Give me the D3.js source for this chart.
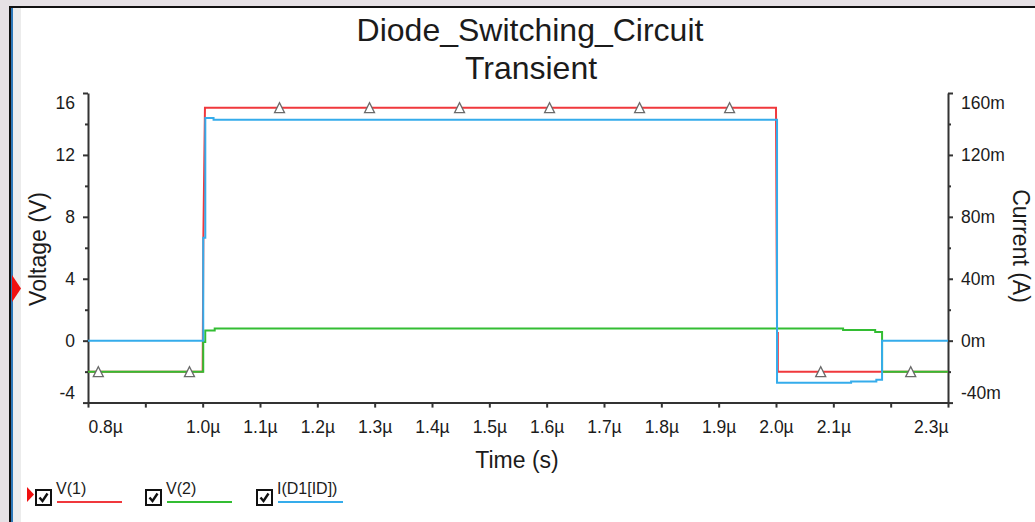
<!DOCTYPE html>
<html>
<head>
<meta charset="utf-8">
<script src="https://cdn.jsdelivr.net/npm/d3@7"></script>
<style>
  body { margin: 0; background: #e6e1e5; overflow: hidden; }
  svg { display: block; }
  text { font-family: "Liberation Sans", Arial, sans-serif; fill: #1b1b1b; }
</style>
</head>
<body>
<svg id="chart"></svg>
<script>
const width = 1035, height = 522;

// time in µs, voltages in V, current in mA
const v1Time = [0.8, 1.0, 1.0012, 1.004, 2.0, 2.0018, 2.0032, 2.0032, 2.3];
const v1Value = [-2, -2, 6.6, 15.05, 15.05, 0.5, 0.5, -2, -2];

const v2Time = [0.8, 1.001, 1.001, 1.0045, 1.0045, 1.021, 1.021, 2.117, 2.117, 2.173, 2.173, 2.185, 2.185, 2.3];
const v2Value = [-2, -2, -0.08, -0.08, 0.65, 0.65, 0.78, 0.78, 0.69, 0.69, 0.56, 0.56, -2, -2];

const iTime = [0.8, 1.001, 1.001, 1.0046, 1.0046, 1.019, 1.019, 2.0018, 2.0018, 2.131, 2.131, 2.175, 2.175, 2.185, 2.185, 2.3];
const iValue = [0, 0, 66.5, 66.5, 143.9, 143.9, 142.8, 142.8, -27.2, -27.2, -26.3, -26.3, -25.3, -25.3, 0, 0];

const v1Markers = [1.134, 1.291, 1.448, 1.605, 1.762, 1.919, 2.078];
const v2Markers = [0.818, 0.977, 2.235];

const timeTicks = [0.8, 0.9, 1.0, 1.1, 1.2, 1.3, 1.4, 1.5, 1.6, 1.7, 1.8, 1.9, 2.0, 2.1, 2.2, 2.3];
const timeLabels = ['0.8µ', '', '1.0µ', '1.1µ', '1.2µ', '1.3µ', '1.4µ', '1.5µ', '1.6µ', '1.7µ', '1.8µ', '1.9µ', '2.0µ', '2.1µ', '', '2.3µ'];
const voltTicks = [-4, 0, 4, 8, 12, 16];
const voltMinor = [-2, 2, 6, 10, 14];
const ampTicks = [-40, 0, 40, 80, 120, 160];
const ampMinor = [-20, 20, 60, 100, 140];

const legendNames = ['V(1)', 'V(2)', 'I(D1[ID])'];
const legendColors = ['#f0383c', '#33bd33', '#35aceb'];

const plotLeft = 88, plotRight = 948, plotTop = 93, plotBottom = 402.6;

let x = d3.scaleLinear().domain([0.8, 2.3]).range([plotLeft, plotRight]);
let yV = d3.scaleLinear().domain([-4, 16]).range([plotBottom, plotTop]);
let yI = d3.scaleLinear().domain([-40, 160]).range([plotBottom, plotTop]);

let svg = d3.select('#chart')
    .attr('width', width)
    .attr('height', height);

// window frame
svg.append('rect').attr('x', 9).attr('y', 6).attr('width', width - 9).attr('height', height - 6).attr('fill', '#111');
svg.append('rect').attr('x', 11).attr('y', 8).attr('width', width - 11).attr('height', height - 8).attr('fill', '#2e78b8');
svg.append('rect').attr('x', 13).attr('y', 8).attr('width', width - 13).attr('height', height - 8).attr('fill', '#ececec');
svg.append('rect').attr('x', 21).attr('y', 8).attr('width', width - 21).attr('height', height - 8).attr('fill', '#fff');

// titles
svg.append('text').attr('x', 530).attr('y', 41).attr('text-anchor', 'middle')
    .style('font-size', '32px').text('Diode_Switching_Circuit');
svg.append('text').attr('x', 531).attr('y', 79).attr('text-anchor', 'middle')
    .style('font-size', '32px').text('Transient');

// axes
function styleAxis(g) {
    g.selectAll('.domain').attr('stroke', '#333').attr('stroke-width', 2);
    g.selectAll('.tick line').attr('stroke', '#333').attr('stroke-width', 2);
    g.selectAll('.tick text').style('font-size', '17.5px').attr('fill', '#1b1b1b')
        .style('font-family', '"Liberation Sans", Arial, sans-serif');
}

let xAxis = svg.append('g')
    .attr('transform', `translate(0,${plotBottom})`)
    .call(d3.axisBottom(x).tickValues(timeTicks).tickSize(5).tickSizeOuter(0)
        .tickFormat((d, i) => timeLabels[i]))
    .call(styleAxis);
xAxis.selectAll('.tick text').attr('y', 18);
xAxis.selectAll('.tick text').filter((d, i) => i === 0).attr('text-anchor', 'start');
xAxis.selectAll('.tick text').filter((d, i) => i === timeTicks.length - 1).attr('text-anchor', 'end');

let yAxisV = svg.append('g')
    .attr('transform', `translate(${plotLeft},0)`)
    .call(d3.axisLeft(yV).tickValues(voltTicks).tickSize(5).tickSizeOuter(0).tickPadding(8)
        .tickFormat(d => String(d)))
    .call(styleAxis);
yAxisV.selectAll('.tick text').filter(d => d === 16).attr('dy', '0.9em');
yAxisV.selectAll('.tick text').filter(d => d === -4).attr('dy', '-0.25em');

svg.append('g')
    .attr('transform', `translate(${plotLeft},0)`)
    .call(d3.axisLeft(yV).tickValues(voltMinor).tickSize(3).tickFormat(''))
    .call(styleAxis)
    .select('.domain').remove();

let yAxisI = svg.append('g')
    .attr('transform', `translate(${plotRight},0)`)
    .call(d3.axisRight(yI).tickValues(ampTicks).tickSize(5).tickSizeOuter(0).tickPadding(8)
        .tickFormat(d => d + 'm'))
    .call(styleAxis);
yAxisI.selectAll('.tick text').filter(d => d === 160).attr('dy', '0.9em');
yAxisI.selectAll('.tick text').filter(d => d === -40).attr('dy', '-0.25em');

svg.append('g')
    .attr('transform', `translate(${plotRight},0)`)
    .call(d3.axisRight(yI).tickValues(ampMinor).tickSize(3).tickFormat(''))
    .call(styleAxis)
    .select('.domain').remove();

// axis titles
svg.append('text').attr('transform', 'translate(38,249) rotate(-90)')
    .attr('text-anchor', 'middle').attr('dy', '0.35em')
    .style('font-size', '23px').text('Voltage (V)');
svg.append('text').attr('transform', 'translate(1021,246) rotate(90)')
    .attr('text-anchor', 'middle').attr('dy', '0.35em')
    .style('font-size', '23px').text('Current (A)');
svg.append('text').attr('x', 517).attr('y', 468).attr('text-anchor', 'middle')
    .style('font-size', '23px').text('Time (s)');

// axis selector marker
svg.append('path').attr('d', 'M12,275 L21,288.5 L12,302 Z').attr('fill', '#f01010');

// traces
let lineV = d3.line().x(d => x(d[0])).y(d => yV(d[1]));
let lineI = d3.line().x(d => x(d[0])).y(d => yI(d[1]));

let traces = svg.append('g').attr('fill', 'none').attr('stroke-width', 2);
traces.append('path').attr('d', lineV(d3.zip(v1Time, v1Value))).attr('stroke', legendColors[0]);
traces.append('path').attr('d', lineV(d3.zip(v2Time, v2Value))).attr('stroke', legendColors[1]);
traces.append('path').attr('d', lineI(d3.zip(iTime, iValue))).attr('stroke', legendColors[2]);

// markers
function valueAt(times, values, t) {
    let idx = d3.bisectRight(times, t) - 1;
    return values[Math.max(0, idx)];
}
let markers = v1Markers.map(t => [t, valueAt(v1Time, v1Value, t)])
    .concat(v2Markers.map(t => [t, valueAt(v2Time, v2Value, t)]));

svg.append('g')
    .selectAll('path')
    .data(markers)
    .enter().append('path')
    .attr('d', d => {
        let cx = x(d[0]), cy = yV(d[1]);
        return `M${cx - 5},${cy + 5} L${cx},${cy - 5} L${cx + 5},${cy + 5} Z`;
    })
    .attr('fill', '#fff')
    .attr('stroke', '#6a6a6a')
    .attr('stroke-width', 1.3);

// legend
let legendX = [35, 145, 256];
let legend = svg.append('g')
    .selectAll('g')
    .data(legendNames)
    .enter().append('g')
    .attr('transform', (d, i) => `translate(${legendX[i]},489)`);

legend.append('rect').attr('x', 1).attr('y', 1).attr('width', 15).attr('height', 15)
    .attr('fill', '#fff').attr('stroke', '#111').attr('stroke-width', 2);
legend.append('path').attr('d', 'M4.5,8.5 L7.5,12 L12.5,4.5')
    .attr('fill', 'none').attr('stroke', '#111').attr('stroke-width', 2.4);
legend.append('text').attr('x', 21).attr('y', 5).style('font-size', '16px')
    .attr('fill', '#1a1a4a').text(d => d);
legend.append('line').attr('x1', 22).attr('x2', 87).attr('y1', 13).attr('y2', 13)
    .attr('stroke', (d, i) => legendColors[i]).attr('stroke-width', 2);

svg.append('path').attr('d', 'M27,487 L34,494.5 L27,502 Z').attr('fill', '#f01010');
</script>
</body>
</html>
